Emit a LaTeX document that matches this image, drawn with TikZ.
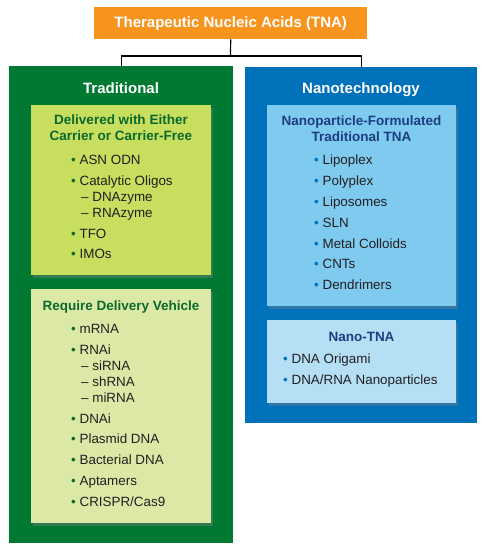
\documentclass[tikz,border=0pt]{standalone}
\usepackage{fontspec}
\setmainfont{Liberation Sans}
\usetikzlibrary{shadows}
\definecolor{orng}{RGB}{247,148,29}
\definecolor{dgreen}{RGB}{0,122,51}
\definecolor{lgreen}{RGB}{199,222,94}
\definecolor{pgreen}{RGB}{220,233,166}
\definecolor{gtext}{RGB}{12,105,45}
\definecolor{dblue}{RGB}{0,114,188}
\definecolor{lblue}{RGB}{127,202,239}
\definecolor{pblue}{RGB}{180,223,245}
\definecolor{btext}{RGB}{28,63,128}
\definecolor{bodyt}{RGB}{35,31,32}
\begin{document}
\begin{tikzpicture}[x=1pt,y=-1pt,
  box/.style={rectangle, inner sep=0pt, anchor=north west, draw=none},
  inbox/.style={box, drop shadow={shadow xshift=2pt, shadow yshift=-3pt, opacity=0.4}},
  head/.style={text=white, font=\fontsize{15}{17}\selectfont\bfseries, anchor=base, inner sep=0pt},
  subt/.style={font=\fontsize{13.5}{15.5}\selectfont\bfseries, anchor=base, inner sep=0pt, align=center},
  item/.style={text=bodyt, font=\fontsize{13.4}{15}\selectfont, anchor=base west, inner sep=0pt},
  conn/.style={draw=black, line width=1.2pt}]
\useasboundingbox (0,0) rectangle (485,550);
\fill[white] (0,0) rectangle (485,550);
% title
\node[box, fill=orng, minimum width=273pt, minimum height=32pt] (tna) at (94,7) {};
\node[text=white, font=\fontsize{15}{17}\selectfont\bfseries, inner sep=0pt] (tnat) at (tna.center) {Therapeutic Nucleic Acids (TNA)};
% outer boxes
\node[box, fill=dgreen, minimum width=224pt, minimum height=477pt] (trad) at (9,66) {};
\node[box, fill=dblue, minimum width=232pt, minimum height=356pt] (nano) at (245,67) {};
\coordinate (split) at (230.5,56);
\draw[conn] (tna.south) -- (split);
\draw[conn] (split) -| (trad.north);
\draw[conn] (split) -| (nano.north);
\node[head] (tradh) at (121,93) {Traditional};
\node[head] (nanoh) at (361,93) {Nanotechnology};
% green inner boxes
\node[inbox, fill=lgreen, minimum width=180pt, minimum height=170pt] (deliv) at (31,105) {};
\node[subt, text=gtext] (delivt) at (121,140) {Delivered with Either\\Carrier or Carrier-Free};
\node[item] (i1) at (71,164) {\textcolor{gtext}{•} ASN ODN};
\node[item] (i2) at (71,185) {\textcolor{gtext}{•} Catalytic Oligos};
\node[item] (i3) at (81,201) {– DNAzyme};
\node[item] (i4) at (81,217) {– RNAzyme};
\node[item] (i5) at (71,238) {\textcolor{gtext}{•} TFO};
\node[item] (i6) at (71,258) {\textcolor{gtext}{•} IMOs};
\node[inbox, fill=pgreen, minimum width=180pt, minimum height=234pt] (veh) at (31,289) {};
\node[subt, text=gtext] (veht) at (121,310) {Require Delivery Vehicle};
\node[item] (r1) at (71,333) {\textcolor{gtext}{•} mRNA};
\node[item] (r2) at (71,354) {\textcolor{gtext}{•} RNAi};
\node[item] (r3) at (81,370) {– siRNA};
\node[item] (r4) at (81,386) {– shRNA};
\node[item] (r5) at (81,402) {– miRNA};
\node[item] (r6) at (71,423) {\textcolor{gtext}{•} DNAi};
\node[item] (r7) at (71,443) {\textcolor{gtext}{•} Plasmid DNA};
\node[item] (r8) at (71,464) {\textcolor{gtext}{•} Bacterial DNA};
\node[item] (r9) at (71,485) {\textcolor{gtext}{•} Aptamers};
\node[item] (r10) at (71,506) {\textcolor{gtext}{•} CRISPR/Cas9};
% blue inner boxes
\node[inbox, fill=lblue, minimum width=189pt, minimum height=201pt] (npf) at (267,105) {};
\node[subt, text=btext] (npft) at (361.5,141) {Nanoparticle-Formulated\\Traditional TNA};
\node[item] (n1) at (314,164) {\textcolor{dblue}{•} Lipoplex};
\node[item] (n2) at (314,185) {\textcolor{dblue}{•} Polyplex};
\node[item] (n3) at (314,206) {\textcolor{dblue}{•} Liposomes};
\node[item] (n4) at (314,227) {\textcolor{dblue}{•} SLN};
\node[item] (n5) at (314,248) {\textcolor{dblue}{•} Metal Colloids};
\node[item] (n6) at (314,268) {\textcolor{dblue}{•} CNTs};
\node[item] (n7) at (314,289) {\textcolor{dblue}{•} Dendrimers};
\node[inbox, fill=pblue, minimum width=189pt, minimum height=83pt] (ntna) at (267,320) {};
\node[subt, text=btext] (ntnat) at (361.5,341) {Nano-TNA};
\node[item] (m1) at (283,363) {\textcolor{dblue}{•} DNA Origami};
\node[item] (m2) at (283,384) {\textcolor{dblue}{•} DNA/RNA Nanoparticles};
\end{tikzpicture}
\end{document}
